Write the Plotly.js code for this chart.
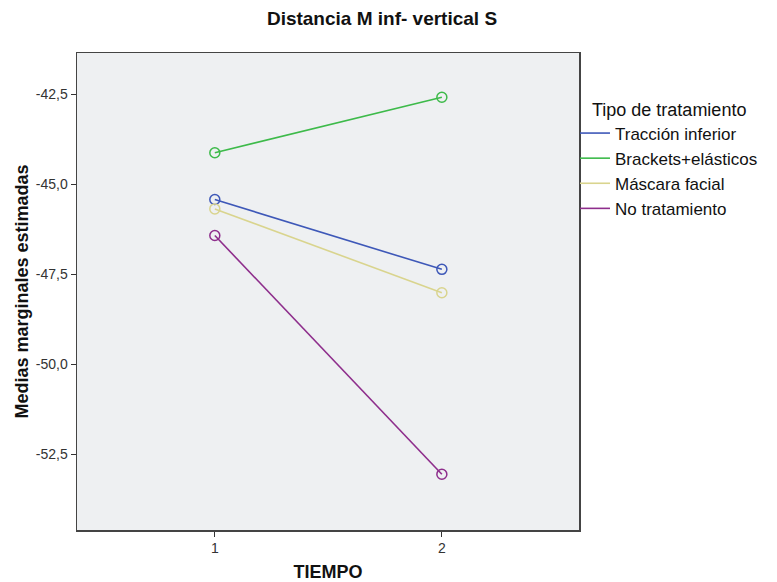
<!DOCTYPE html>
<html>
<head>
<meta charset="utf-8">
<script src="https://cdn.plot.ly/plotly-3.0.1.min.js"></script>
<style>html,body{margin:0;padding:0;background:#fff;}#chart{width:777px;height:582px;}</style>
</head>
<body>
<div id="chart"></div>
<script>
// Data
const tiempo = [1, 2];
const seriesNames = ["Tracción inferior", "Brackets+elásticos", "Máscara facial", "No tratamiento"];
const traccionInferior = [-45.43, -47.37];
const bracketsElasticos = [-44.13, -42.59];
const mascaraFacial = [-45.69, -48.02];
const noTratamiento = [-46.43, -53.06];
const yTickVals = [-42.5, -45.0, -47.5, -50.0, -52.5];
const yTickText = ["-42,5", "-45,0", "-47,5", "-50,0", "-52,5"];
const xTickVals = [1, 2];
const xTickText = ["1", "2"];

const colors = ["#3E58B8", "#3DBA4A", "#D9D48E", "#8E2E8C"];
const values = [traccionInferior, bracketsElasticos, mascaraFacial, noTratamiento];

const dataTraces = values.map((v, i) => ({
  x: tiempo,
  y: v,
  name: seriesNames[i],
  type: "scatter",
  mode: "lines+markers",
  showlegend: false,
  line: {color: colors[i], width: 1.6},
  marker: {symbol: "circle-open", size: 10, color: colors[i], line: {width: 1.5, color: colors[i]}}
}));
// legend entries showing line only
const legendTraces = seriesNames.map((n, i) => ({
  x: [null],
  y: [null],
  name: n,
  type: "scatter",
  mode: "lines",
  showlegend: true,
  line: {color: colors[i], width: 1.6}
}));

const layout = {
  width: 777,
  height: 582,
  margin: {l: 77, r: 198, t: 53, b: 52},
  paper_bgcolor: "#ffffff",
  plot_bgcolor: "#EEF0F2",
  font: {family: "Liberation Sans, Arial, sans-serif", color: "#222"},
  title: {
    text: "<b>Distancia M inf- vertical S</b>",
    font: {size: 19, color: "#111"},
    x: 382 / 777, xanchor: "center", xref: "container",
    y: 1 - 18 / 582, yanchor: "middle", yref: "container"
  },
  xaxis: {
    range: [0.393, 2.604],
    tickvals: xTickVals,
    ticktext: xTickText,
    ticks: "outside", ticklen: 5, tickwidth: 1, tickcolor: "#333",
    showline: true, linecolor: "#444", linewidth: 1.5, mirror: true,
    showgrid: false, zeroline: false,
    tickfont: {size: 14, color: "#333"},
    title: {text: "<b>TIEMPO</b>", font: {size: 18, color: "#111"}, standoff: 14}
  },
  yaxis: {
    range: [-54.61, -41.36],
    tickvals: yTickVals,
    ticktext: yTickText,
    ticks: "outside", ticklen: 5, tickwidth: 1, tickcolor: "#333",
    showline: true, linecolor: "#444", linewidth: 1.5, mirror: true,
    showgrid: false, zeroline: false,
    tickfont: {size: 14, color: "#333"},
    title: {text: "<b>Medias marginales estimadas</b>", font: {size: 18, color: "#111"}, standoff: 2}
  },
  showlegend: true,
  legend: {
    x: 0.992, xanchor: "left",
    y: 0.918, yanchor: "top",
    bgcolor: "rgba(0,0,0,0)",
    borderwidth: 0,
    font: {size: 17, color: "#111"},
    tracegroupgap: 0,
    itemwidth: 30,
    title: {text: "&nbsp;&nbsp;&nbsp;Tipo de tratamiento", font: {size: 18, color: "#111"}}
  }
};

Plotly.newPlot("chart", dataTraces.concat(legendTraces), layout, {displayModeBar: false, staticPlot: true});
</script>
</body>
</html>
